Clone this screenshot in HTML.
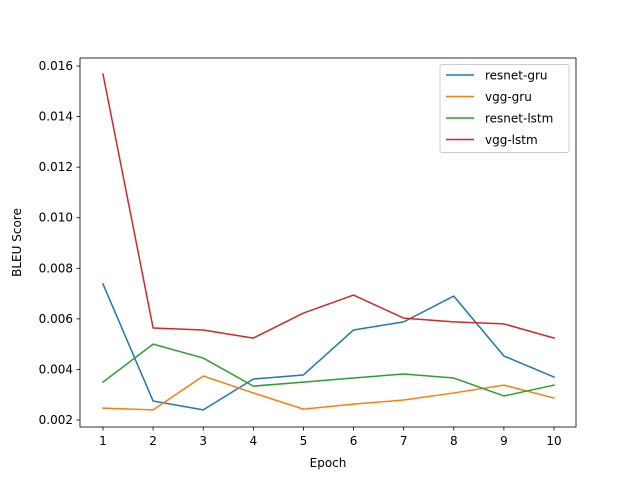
<!DOCTYPE html>
<html><head><meta charset="utf-8"><style>
body{margin:0;background:#fff;}
svg{display:block;font-family:"DejaVu Sans","Liberation Sans",sans-serif;}
</style></head><body>
<svg id="chart" width="640" height="480" xmlns="http://www.w3.org/2000/svg">
<rect width="640" height="480" fill="#fff"/>
<g id="plot"></g>
</svg>
<script>
const epochs=[1,2,3,4,5,6,7,8,9,10];
const yTicks=[0.002,0.004,0.006,0.008,0.010,0.012,0.014,0.016];
const yTickLabels=["0.002","0.004","0.006","0.008","0.010","0.012","0.014","0.016"];
const seriesNames=["resnet-gru","vgg-gru","resnet-lstm","vgg-lstm"];
const resnetGru=[0.00738,0.00275,0.0024,0.00362,0.00378,0.00556,0.00588,0.0069,0.00453,0.0037];
const vggGru=[0.00247,0.0024,0.00374,0.00307,0.00243,0.00263,0.00279,0.00307,0.00338,0.00287];
const resnetLstm=[0.0035,0.005,0.00445,0.00334,0.0035,0.00366,0.00382,0.00366,0.00295,0.00338];
const vggLstm=[0.01568,0.00564,0.00556,0.00524,0.00623,0.00694,0.00603,0.00588,0.0058,0.00524];
const colors=["#1f77b4","#ff7f0e","#2ca02c","#d62728"];
const allSeries=[resnetGru,vggGru,resnetLstm,vggLstm];
const NS="http://www.w3.org/2000/svg";
const L=80,R=576,T=58,B=427;
const xs=v=>103+(v-1)*(554-103)/9;
const ys=v=>420-(v-0.002)*(420-66)/0.014;
const g=document.getElementById('plot');
function mk(t,a,p){const e=document.createElementNS(NS,t);for(const k in a)e.setAttribute(k,a[k]);(p||g).appendChild(e);return e;}
epochs.forEach(v=>{
 const t=mk('line',{x1:xs(v),x2:xs(v),y1:B,y2:B+3.5,stroke:'#000','stroke-width':0.8});
 
 
 const l=mk('text',{x:xs(v),y:B+18,'text-anchor':'middle','font-size':12});
 l.textContent=v;
 
 
});
yTicks.forEach((v,i)=>{
 const t=mk('line',{x1:L-3.5,x2:L,y1:ys(v),y2:ys(v),stroke:'#000','stroke-width':0.8});
 
 
 const l=mk('text',{x:L-7,y:ys(v)+4,'text-anchor':'end','font-size':12});
 l.textContent=yTickLabels[i];
 
 
});
allSeries.forEach((s,i)=>{
 const p=mk('polyline',{points:s.map((v,j)=>xs(epochs[j])+','+ys(v)).join(' '),fill:'none',stroke:colors[i],'stroke-width':1.5,'stroke-linejoin':'round','stroke-linecap':'square'});
 
 
});
const frame=mk('rect',{x:L,y:T,width:R-L,height:B-T,fill:'none',stroke:'#000','stroke-width':0.8});


const xt=mk('text',{x:(L+R)/2,y:467,'text-anchor':'middle','font-size':12});
xt.textContent='Epoch';


const yt=mk('text',{x:21,y:(T+B)/2,'text-anchor':'middle','font-size':12,transform:'rotate(-90 21 '+((T+B)/2)+')'});
yt.textContent='BLEU Score';


const lg=mk('g',{});


mk('rect',{x:440,y:64.5,width:129,height:88,rx:2,fill:'#fff',stroke:'#ccc','stroke-width':1},lg);
seriesNames.forEach((n,i)=>{
 const y=75+i*21.5;
 const e=mk('g',{},lg);
 
 
 mk('line',{x1:446,x2:474,y1:y,y2:y,stroke:colors[i],'stroke-width':1.5},e);
 const t=mk('text',{x:485,y:y+4.5,'font-size':12},e);
 t.textContent=n;
});
</script>
</body></html>
